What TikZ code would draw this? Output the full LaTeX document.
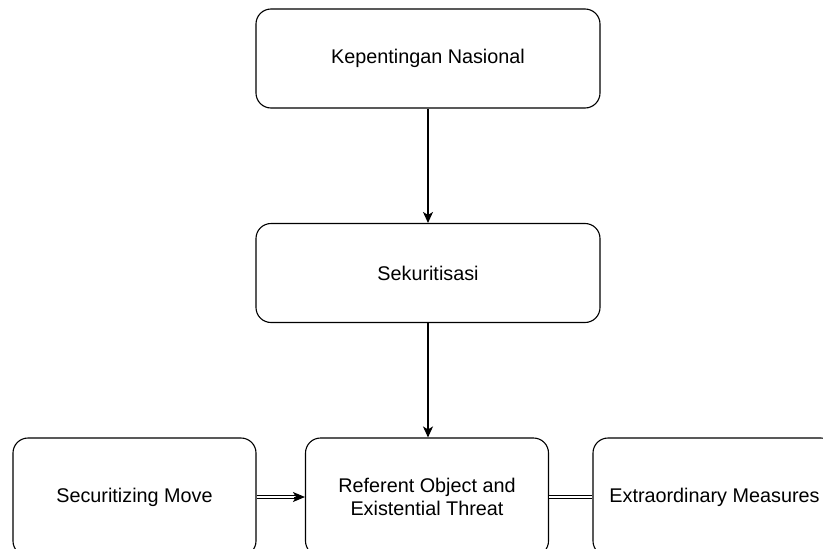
\documentclass[tikz,border=0pt]{standalone}
\usepackage{fontspec}
\setmainfont{Liberation Sans}
\usetikzlibrary{arrows.meta}
\begin{document}
\begin{tikzpicture}[x=1pt,y=-1pt,
  box/.style={draw=black, line width=1.1pt, rounded corners=15pt, fill=white, font=\fontsize{19.8}{23.5}\selectfont, align=center, inner sep=0pt},
  topbox/.style={box, minimum width=344pt, minimum height=99pt},
  botbox/.style={box, minimum width=243pt, minimum height=118pt},
  arr/.style={line width=1.2pt, -{Stealth[length=11pt,width=10pt,inset=3pt]}},
  dbl/.style={double=white, double distance=2.6pt, line width=1pt}
]
\useasboundingbox (0,0) rectangle (823,549);
\clip (0,0) rectangle (823,549);
\fill[white] (0,0) rectangle (823,549);
\node[topbox] (kn) at (428,58.5) {Kepentingan Nasional};
\node[topbox] (sk) at (428,273) {Sekuritisasi};
\node[botbox] (sm) at (134.5,497) {Securitizing Move};
\node[botbox] (ro) at (427,497) {Referent Object and\\Existential Threat};
\node[botbox] (em) at (714.5,497) {Extraordinary Measures};
\draw[arr] (kn.south) -- (sk.north);
\draw[arr] (sk.south) -- (sk.south |- ro.north);
\coordinate (ah) at ([xshift=-9pt]ro.west);
\draw[dbl] (sm.east) -- (ah);
\draw[line width=1pt, -{Stealth[length=12pt,width=10pt,inset=3pt]}] ([xshift=-2pt]ah) -- (ro.west);
\draw[dbl] (ro.east) -- (em.west);
\end{tikzpicture}
\end{document}
